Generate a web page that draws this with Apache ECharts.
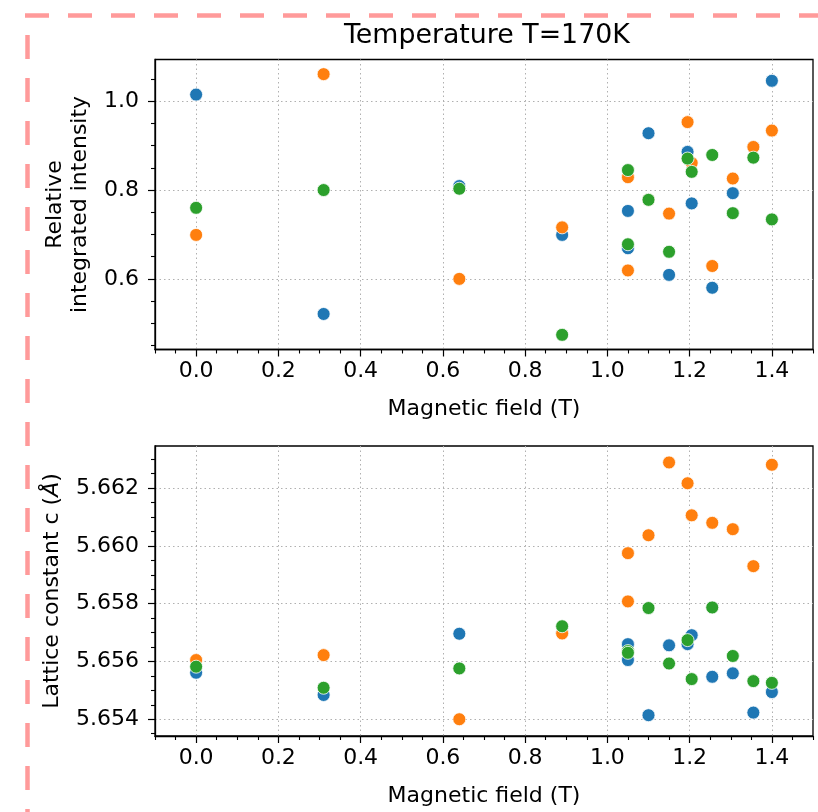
<!DOCTYPE html>
<html>
<head>
<meta charset="utf-8">
<script src="https://cdn.jsdelivr.net/npm/echarts@6/dist/echarts.min.js"></script>
<style>
  html, body { margin: 0; padding: 0; background: #fff; }
  #chart { width: 818px; height: 812px; }
</style>
</head>
<body>
<div id="chart"></div>
<script>
// magnetic field of each measurement (same for all three series)
var fieldT = [0, 0.31, 0.64, 0.89, 1.05, 1.05, 1.1, 1.15, 1.195, 1.205, 1.255, 1.305, 1.355, 1.4];

// relative integrated intensity
var intensityBlue   = [1.015, 0.521, 0.809, 0.699, 0.753, 0.669, 0.928, 0.609, 0.886, 0.770, 0.580, 0.793, 0.897, 1.046];
var intensityOrange = [0.699, 1.061, 0.600, 0.716, 0.829, 0.619, 0.778, 0.747, 0.953, 0.861, 0.629, 0.826, 0.897, 0.934];
var intensityGreen  = [0.760, 0.800, 0.803, 0.474, 0.845, 0.678, 0.778, 0.661, 0.871, 0.841, 0.879, 0.748, 0.873, 0.734];

// lattice constant c
var latticeBlue   = [5.65561, 5.65484, 5.65696, 5.6570, 5.65660, 5.65605, 5.65414, 5.65656, 5.65660, 5.65691, 5.65547, 5.65559, 5.65423, 5.65494];
var latticeOrange = [5.65605, 5.65622, 5.65400, 5.65697, 5.65975, 5.65808, 5.66037, 5.66289, 5.66217, 5.66106, 5.66080, 5.66058, 5.65930, 5.66281];
var latticeGreen  = [5.65582, 5.65509, 5.65576, 5.65722, 5.65636, 5.65630, 5.65785, 5.65593, 5.65674, 5.65539, 5.65787, 5.65619, 5.65532, 5.65526];

// tick labels
var xTicks = [0, 0.2, 0.4, 0.6, 0.8, 1.0, 1.2, 1.4];
var intensityTicks = [0.6, 0.8, 1.0];
var latticeTicks = [5.654, 5.656, 5.658, 5.660, 5.662];

var colors = ['#1f77b4', '#ff7f0e', '#2ca02c'];
var font = 'DejaVu Sans';
var fs = 22;

// minor tick positions between majors
function minorTicks(lo, hi, step, majors) {
  var out = [];
  var start = Math.ceil(lo / step - 1e-6);
  var end = Math.floor(hi / step + 1e-6);
  for (var i = start; i <= end; i++) {
    var v = +(i * step).toFixed(6);
    var isMajor = majors.some(function (m) { return Math.abs(m - v) < step / 10; });
    if (!isMajor) out.push(v);
  }
  return out;
}

var topRect = { left: 155, top: 59.5, width: 658, height: 290 };
var botRect = { left: 155, top: 446, width: 658, height: 290 };

function gridOf(r, show) {
  return {
    left: r.left, top: r.top, width: r.width, height: r.height,
    show: show, borderColor: '#000', borderWidth: 1.3, backgroundColor: 'transparent'
  };
}

function majorX(name) {
  return {
    type: 'value', min: -0.1, max: 1.5,
    name: name, nameLocation: 'middle', nameGap: 49,
    nameTextStyle: { fontFamily: font, fontSize: fs, color: '#000' },
    axisLine: { show: true, onZero: false, lineStyle: { color: '#000', width: 1.3 } },
    axisTick: { show: true, customValues: xTicks, length: 7, lineStyle: { color: '#000', width: 1.2 } },
    axisLabel: {
      customValues: xTicks, margin: 11, fontFamily: font, fontSize: fs, color: '#000',
      formatter: function (v) { return v.toFixed(1); }
    },
    splitLine: { show: true, lineStyle: { color: '#b0b0b0', width: 1, type: [1.5, 3] } }
  };
}

function minorAxis(lo, hi, step, majors) {
  return {
    type: 'value', min: lo, max: hi,
    axisLine: { show: false, onZero: false },
    axisTick: { show: true, customValues: minorTicks(lo, hi, step, majors), length: 4, lineStyle: { color: '#000', width: 1.1 } },
    axisLabel: { show: false },
    splitLine: { show: false }
  };
}

function majorY(lo, hi, ticks, digits, name, gap) {
  return {
    type: 'value', min: lo, max: hi,
    name: name, nameLocation: 'middle', nameGap: gap,
    nameTextStyle: {
      fontFamily: font, fontSize: fs, color: '#000', lineHeight: 25,
      rich: { it: { fontFamily: font, fontSize: fs, fontStyle: 'italic', color: '#000' } }
    },
    axisLine: { show: true, onZero: false, lineStyle: { color: '#000', width: 1.3 } },
    axisTick: { show: true, customValues: ticks, length: 7, lineStyle: { color: '#000', width: 1.2 } },
    axisLabel: {
      customValues: ticks, margin: 16, fontFamily: font, fontSize: fs, color: '#000',
      formatter: function (v) { return v.toFixed(digits); }
    },
    splitLine: { show: true, lineStyle: { color: '#b0b0b0', width: 1, type: [1.5, 3] } }
  };
}

function pts(ys) {
  return fieldT.map(function (x, i) { return [x, ys[i]]; });
}

function scatter(ys, c, axisIdx) {
  return {
    type: 'scatter', xAxisIndex: axisIdx, yAxisIndex: axisIdx,
    data: pts(ys), symbolSize: 13,
    itemStyle: { color: colors[c], opacity: 1, borderColor: '#fff', borderWidth: 0.8 }
  };
}

var iLo = 0.441, iHi = 1.094;
var cLo = 5.65342, cHi = 5.66346;

var chart = echarts.init(document.getElementById('chart'), null, { renderer: 'canvas' });
chart.setOption({
  animation: false,
  backgroundColor: '#fff',
  title: {
    text: 'Temperature T=170K', left: 339, top: 18,
    textStyle: { fontFamily: font, fontSize: 26.8, fontWeight: 'normal', color: '#000' }
  },
  grid: [gridOf(topRect, true), gridOf(topRect, false), gridOf(botRect, true), gridOf(botRect, false)],
  xAxis: [
    Object.assign(majorX('Magnetic field (T)'), { gridIndex: 0 }),
    Object.assign(minorAxis(-0.1, 1.5, 0.05, xTicks), { gridIndex: 1 }),
    Object.assign(majorX('Magnetic field (T)'), { gridIndex: 2 }),
    Object.assign(minorAxis(-0.1, 1.5, 0.05, xTicks), { gridIndex: 3 })
  ],
  yAxis: [
    Object.assign(majorY(iLo, iHi, intensityTicks, 1, 'Relative\nintegrated intensity', 61), { gridIndex: 0 }),
    Object.assign(minorAxis(iLo, iHi, 0.05, intensityTicks), { gridIndex: 1 }),
    Object.assign(majorY(cLo, cHi, latticeTicks, 3, 'Lattice constant c ({it|Å})', 84), { gridIndex: 2 }),
    Object.assign(minorAxis(cLo, cHi, 0.0005, latticeTicks), { gridIndex: 3 })
  ],
  series: [
    scatter(intensityBlue, 0, 0),
    scatter(intensityOrange, 1, 0),
    scatter(intensityGreen, 2, 0),
    scatter(latticeBlue, 0, 2),
    scatter(latticeOrange, 1, 2),
    scatter(latticeGreen, 2, 2)
  ],
  graphic: [
    { type: 'line', silent: true, shape: { x1: 25, y1: 15.5, x2: 818, y2: 15.5 },
      style: { stroke: '#ff9a9a', lineWidth: 4.5, lineDash: [24, 19] } },
    { type: 'line', silent: true, shape: { x1: 27.5, y1: 35, x2: 27.5, y2: 812 },
      style: { stroke: '#ff9a9a', lineWidth: 4.5, lineDash: [24, 19] } }
  ]
});
</script>
</body>
</html>
